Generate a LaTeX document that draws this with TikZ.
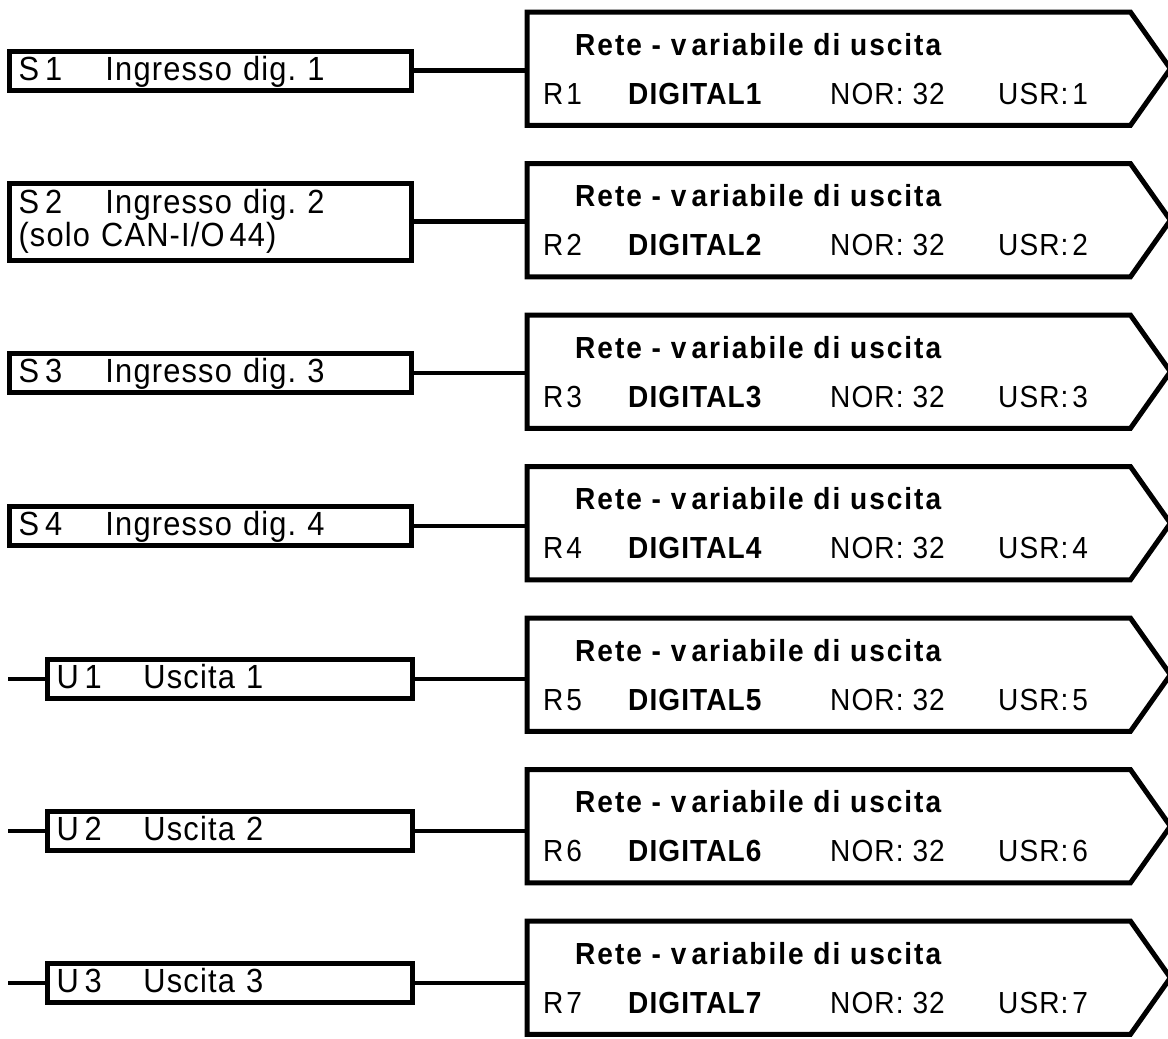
\documentclass[tikz,border=0pt]{standalone}
\usepackage{fontspec}
\setmainfont[FakeStretch=0.92, LetterSpace=3.5]{Liberation Sans}
\usetikzlibrary{calc}

\begin{document}
\begin{tikzpicture}[
  x=1pt, y=-1pt,
  font=\fontsize{33.5}{33}\selectfont\frenchspacing,
  lbox/.style={draw, line width=5pt, anchor=west, inner xsep=9pt, inner ysep=0pt,
    text width=384pt, align=left, minimum height=39pt, text height=25pt, text depth=6pt},
  rbox/.style={anchor=north west, inner sep=0pt, minimum width=603pt, minimum height=113pt},
  frame/.style={draw, line width=5pt, line join=miter},
  wire/.style={line width=4.5pt},
  txt/.style={anchor=base west, inner sep=0pt, font=\fontsize{30.5}{30}\selectfont\frenchspacing},
  txtb/.style={txt, font=\fontsize{30.5}{30}\selectfont\frenchspacing\bfseries}
]
\fill[white] (0,0) rectangle (1168,1039);
\useasboundingbox (0,0) rectangle (1168,1039);

% ── Right: network output variables ──
\foreach \i in {1,...,7} {
  \node[rbox] (r\i) at (527, {12+151.5*(\i-1)}) {};
  \draw[frame] (r\i.north west) -- (r\i.north east) -- ($(r\i.east)+(40,0)$)
    -- (r\i.south east) -- (r\i.south west) -- cycle;
  \node[txtb] (t\i) at ($(r\i.north west)+(48,43)$)
    {\addfontfeature{LetterSpace=6.5}Rete - v\,ariabile di uscita};
  \node[txt] (n\i) at ($(r\i.north west)+(16,92)$) {R\kern3pt\i};
  \node[txtb] (d\i) at ($(r\i.north west)+(101,92)$) {DIGITAL\i};
  \node[txt] (o\i) at ($(r\i.north west)+(303,92)$) {NOR:\kern9pt32};
  \node[txt] (u\i) at ($(r\i.north west)+(471,92)$) {USR:\kern4pt\i};
}

% ── Left: digital inputs ──
\node[lbox] (s1) at (7, 70.5) {\makebox[87pt][l]{S\kern6pt1}Ingresso dig. 1};
\node[lbox, minimum height=77pt, text height=, text depth=] (s2) at (7, 221.5)
  {\makebox[87pt][l]{S\kern6pt2}Ingresso dig. 2\\(solo CAN-I/O\kern5pt44)};
\node[lbox] (s3) at (7, 373) {\makebox[87pt][l]{S\kern6pt3}Ingresso dig. 3};
\node[lbox] (s4) at (7, 526) {\makebox[87pt][l]{S\kern6pt4}Ingresso dig. 4};

% ── Left: outputs ──
\node[lbox, text width=347pt] (o1) at (45, 679) {\makebox[87pt][l]{U\kern6pt1}Uscita 1};
\node[lbox, text width=347pt] (o2) at (45, 831) {\makebox[87pt][l]{U\kern6pt2}Uscita 2};
\node[lbox, text width=347pt] (o3) at (45, 983) {\makebox[87pt][l]{U\kern6pt3}Uscita 3};
\coordinate (o1in) at (8, 679);
\coordinate (o2in) at (8, 831);
\coordinate (o3in) at (8, 983);

% ── Wires ──
\draw[wire] (s1.east) -- (s1.east -| r1.west);
\draw[wire] (s2.east) -- (s2.east -| r2.west);
\draw[wire] (s3.east) -- (s3.east -| r3.west);
\draw[wire] (s4.east) -- (s4.east -| r4.west);
\draw[wire] (o1.east) -- (o1.east -| r5.west);
\draw[wire] (o2.east) -- (o2.east -| r6.west);
\draw[wire] (o3.east) -- (o3.east -| r7.west);
\draw[wire] (o1in) -- (o1.west);
\draw[wire] (o2in) -- (o2.west);
\draw[wire] (o3in) -- (o3.west);

\end{tikzpicture}
\end{document}
